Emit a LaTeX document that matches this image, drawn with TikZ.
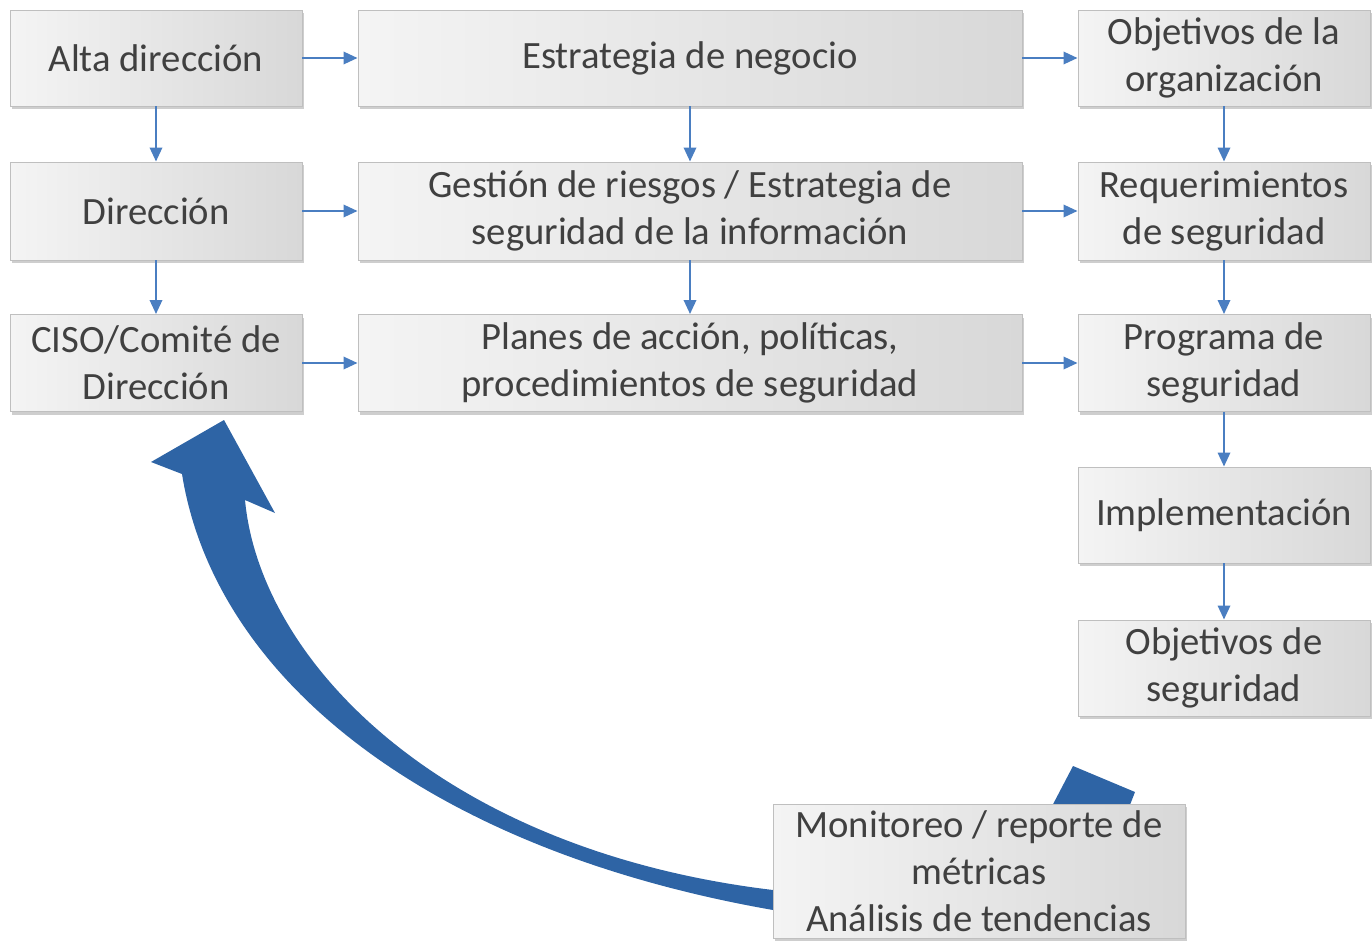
\documentclass[tikz,border=0pt]{standalone}
\usepackage{fontspec}
\setmainfont{Carlito}
\usetikzlibrary{arrows.meta,shadows}
\definecolor{boxlight}{RGB}{244,244,244}
\definecolor{boxdark}{RGB}{216,216,216}
\definecolor{boxline}{RGB}{191,191,191}
\definecolor{txtgray}{RGB}{64,64,64}
\definecolor{linkblue}{RGB}{74,126,193}
\definecolor{bigblue}{RGB}{46,100,165}
\newlength\px
\setlength\px{0.02cm}
\tikzset{
  box/.style={draw=boxline, line width=0.5pt, left color=boxlight, right color=boxdark,
    text=txtgray, align=center, inner sep=0pt,
    font=\fontsize{22}{26.7}\selectfont,
    drop shadow={shadow xshift=0.9pt, shadow yshift=-1.8pt, opacity=0.35, fill=black!55}},
  arr/.style={linkblue, line width=1.4pt, -{Triangle[length=8pt,width=7pt]}}
}
\begin{document}
\begin{tikzpicture}[x=0.02cm,y=-0.02cm]
\useasboundingbox (0,0) rectangle (1372,940);
% curved feedback arrow
\fill[bigblue] (800,916) -- (773,910) .. controls (430,850) and (215,680) .. (182,474)
  -- (151,462) -- (224,420) -- (275,513) -- (245,500)
  .. controls (260,660) and (440,850) .. (773,890) -- (800,892) -- cycle;
\fill[bigblue] (1050,810) -- (1073,766) -- (1135,792) -- (1128,810) -- cycle;
% first row
\node [box, minimum width=292\px, minimum height=96\px] (alta) at (156,58) {Alta dirección};
\node [box, minimum width=664\px, minimum height=96\px] (estr) at (690,58) {Estrategia de negocio};
\node [box, minimum width=292\px, minimum height=96\px] (objorg) at (1224,58) {Objetivos de la\\organización};
% second row
\node [box, minimum width=292\px, minimum height=98\px] (dir) at (156,211) {Dirección};
\node [box, minimum width=664\px, minimum height=98\px] (gest) at (690,211) {Gestión de riesgos / Estrategia de\\seguridad de la información};
\node [box, minimum width=292\px, minimum height=98\px] (req) at (1224,211) {Requerimientos\\de seguridad};
% third row
\node [box, minimum width=292\px, minimum height=97\px] (ciso) at (156,363) {CISO/Comité de\\Dirección};
\node [box, minimum width=664\px, minimum height=97\px] (planes) at (690,363) {Planes de acción, políticas,\\procedimientos de seguridad};
\node [box, minimum width=292\px, minimum height=97\px] (prog) at (1224,363) {Programa de\\seguridad};
% right column
\node [box, minimum width=292\px, minimum height=96\px] (impl) at (1224,515) {Implementación};
\node [box, minimum width=292\px, minimum height=96\px] (objseg) at (1224,668) {Objetivos de\\seguridad};
\node [box, minimum width=412\px, minimum height=134\px] (mon) at (979,871) {Monitoreo / reporte de\\métricas\\Análisis de tendencias};
% links
\draw [arr] (alta) -- (estr);
\draw [arr] (estr) -- (objorg);
\draw [arr] (dir) -- (gest);
\draw [arr] (gest) -- (req);
\draw [arr] (ciso) -- (planes);
\draw [arr] (planes) -- (prog);
\draw [arr] (alta) -- (dir);
\draw [arr] (dir) -- (ciso);
\draw [arr] (estr) -- (gest);
\draw [arr] (gest) -- (planes);
\draw [arr] (objorg) -- (req);
\draw [arr] (req) -- (prog);
\draw [arr] (prog) -- (impl);
\draw [arr] (impl) -- (objseg);
\end{tikzpicture}
\end{document}
